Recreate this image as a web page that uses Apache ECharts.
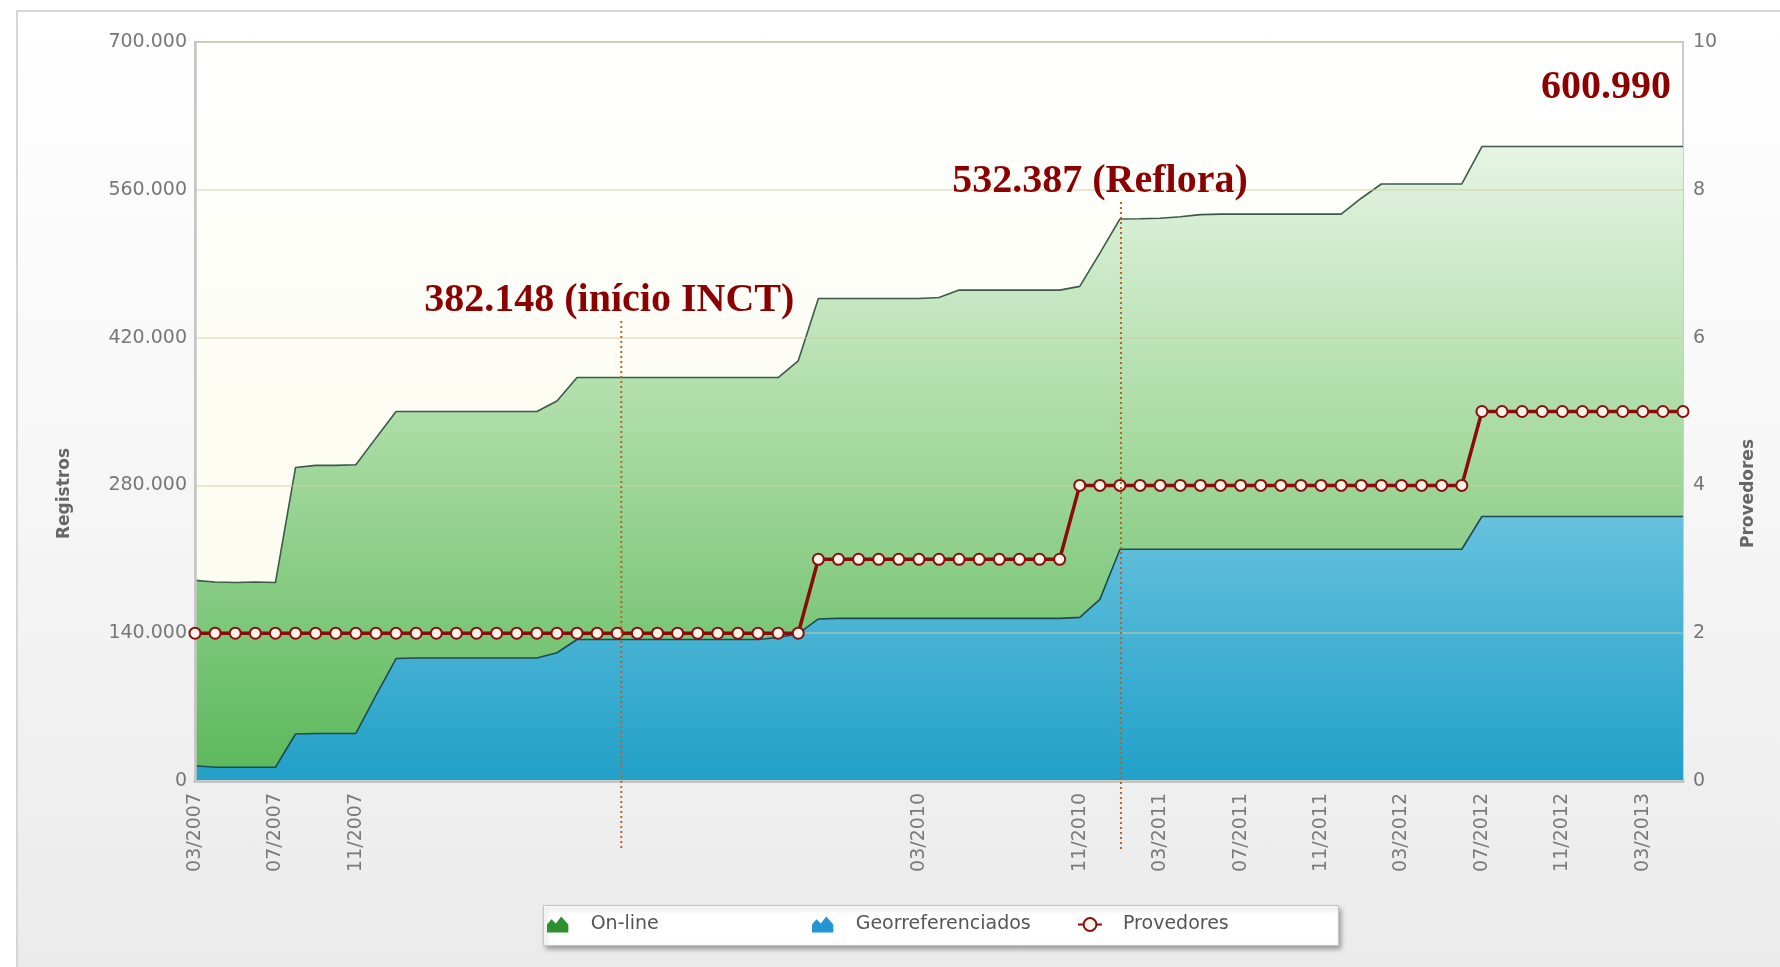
<!DOCTYPE html>
<html><head><meta charset="utf-8">
<script src="https://cdn.jsdelivr.net/npm/echarts@6/dist/echarts.min.js"></script>
<style>
html,body{margin:0;padding:0;width:1780px;height:967px;background:#fff;overflow:hidden;}
#frame{position:absolute;left:16px;top:10px;width:1780px;height:990px;border:2px solid #d6d6d6;background:linear-gradient(#ffffff 0%, #f8f8f8 40%, #eaeaea 100%);}
#chart{position:absolute;left:0;top:0;width:1780px;height:967px;}
</style></head><body><div id="frame"></div><div id="chart"></div>
<script>
const months = [
 '03/2007','04/2007','05/2007','06/2007','07/2007','08/2007','09/2007','10/2007','11/2007','12/2007',
 '01/2008','02/2008','03/2008','04/2008','05/2008','06/2008','07/2008','08/2008','09/2008','10/2008','11/2008','12/2008',
 '01/2009','02/2009','03/2009','04/2009','05/2009','06/2009','07/2009','08/2009','09/2009','10/2009','11/2009','12/2009',
 '01/2010','02/2010','03/2010','04/2010','05/2010','06/2010','07/2010','08/2010','09/2010','10/2010','11/2010','12/2010',
 '01/2011','02/2011','03/2011','04/2011','05/2011','06/2011','07/2011','08/2011','09/2011','10/2011','11/2011','12/2011',
 '01/2012','02/2012','03/2012','04/2012','05/2012','06/2012','07/2012','08/2012','09/2012','10/2012','11/2012','12/2012',
 '01/2013','02/2013','03/2013','04/2013','05/2013'
];
const shownTicks = ['03/2007','07/2007','11/2007','03/2010','11/2010','03/2011','07/2011','11/2011','03/2012','07/2012','11/2012','03/2013'];

const online = [
 190000,188500,188000,188500,188000,297000,299000,299000,299500,325000,
 350000,350000,350000,350000,350000,350000,350000,350000,360000,382148,
 382148,382148,382148,382148,382148,382148,382148,382148,382148,382148,
 398000,457000,457000,457000,457000,457000,457000,458000,465000,465000,
 465000,465000,465000,465000,468500,500000,532387,532600,533000,534500,
 536500,537000,537000,537000,537000,537000,537000,537000,552000,565500,
 565500,565500,565500,565500,600990,600990,600990,600990,600990,600990,
 600990,600990,600990,600990,600990
];
const georef = [
 14500,13000,13000,13000,13000,44500,45000,45000,45000,81000,
 116000,116500,116500,116500,116500,116500,116500,116500,121500,134000,
 134000,134000,134000,134000,134000,134000,134000,134000,134000,136000,
 139500,153500,154000,154000,154000,154000,154000,154000,154000,154000,
 154000,154000,154000,154000,155000,172000,219500,219500,219500,219500,
 219500,219500,219500,219500,219500,219500,219500,219500,219500,219500,
 219500,219500,219500,219500,250500,250500,250500,250500,250500,250500,
 250500,250500,250500,250500,250500
];
const provedores = [
 2,2,2,2,2,2,2,2,2,2, 2,2,2,2,2,2,2,2,2,2, 2,2,2,2,2,2,2,2,2,2,
 2,3,3,3,3,3,3,3,3,3, 3,3,3,3,4,4,4,4,4,4, 4,4,4,4,4,4,4,4,4,4,
 4,4,4,4,5,5,5,5,5,5, 5,5,5,5,5
];
// annotations: month index position, top value of marker line, bottom value (below axis), label
const annotX = [21.2, 46.05, 74];
const annotTop = [435700, 548400, 600990];
const annotBottom = [-64400, -64400, 600990];
const annotLabels = ['382.148 (início INCT)', '532.387 (Reflora)', '600.990'];
const seriesNames = ['On-line', 'Georreferenciados', 'Provedores'];

function fmtThousands(v){ return String(v).replace(/\B(?=(\d{3})+(?!\d))/g, '.'); }

const chart = echarts.init(document.getElementById('chart'), null, {renderer:'canvas'});
const annotData = annotX.map((x,i)=>[x, annotTop[i], annotBottom[i]]);
const annotOffsets = [[-12,-20,'center'],[-21,-20,'center'],[-12,-59,'right']];

const mountain = 'path://M0,20 L0,11 L5,5 L10,10 L16,2 L24,11 L24,20 Z';
const legendIcons = [
 {icon: mountain, itemStyle:{color:'#2f8f2f'}},
 {icon: mountain, itemStyle:{color:'#2196d3'}},
 {}
];
const legendLefts = [547, 812, 1077];
const legends = seriesNames.map((n, i) => ({
 left: legendLefts[i], top: 915, padding: 0,
 itemWidth: 24, itemHeight: 16,
 formatter: name => '{t|' + name + '}',
 textStyle: {fontFamily:'DejaVu Sans', fontSize: 19, color:'#555',
  rich: {t: {fontFamily:'DejaVu Sans', fontSize: 19, color:'#555', padding:[0,0,0,16]}}},
 data: [Object.assign({name: n}, legendIcons[i])]
}));

const option = {
 backgroundColor: 'transparent',
 animation: false,
 graphic: [{
  type:'rect', left: 543, top: 905, z: 0,
  shape:{width: 795, height: 40},
  style:{fill:'#ffffff', stroke:'#c4c4c4', lineWidth:1,
   shadowColor:'rgba(0,0,0,0.35)', shadowBlur:5, shadowOffsetX:2, shadowOffsetY:3}
 }],
 grid: {
  left: 195, right: 97, top: 42, bottom: 186, show: true,
  borderColor: '#cbcbcb', borderWidth: 2,
  backgroundColor: new echarts.graphic.LinearGradient(0,0,0,1,[
   {offset:0,color:'#ffffff'},{offset:0.5,color:'#fdfdf4'},{offset:1,color:'#fbfbee'}])
 },
 legend: legends,
 xAxis: [
  {
   type: 'value', min: 0, max: 74, interval: 4, z: 4,
   axisLine: {show:true, lineStyle:{color:'#243a52', width:2.5}},
   axisTick: {show:false},
   splitLine: {show:false},
   axisLabel: {
    rotate: 90, margin: 12, color:'#7a7a7a', fontSize: 19, fontFamily:'DejaVu Sans',
    showMaxLabel: false,
    formatter: v => (shownTicks.indexOf(months[v]) >= 0 ? months[v] : '')
   }
  },
  {
   type: 'value', min: 0, max: 74, position: 'top', z: 4,
   axisLine: {show:true, lineStyle:{color:'#c6c6c6', width:3}},
   axisTick: {show:false}, axisLabel: {show:false}, splitLine: {show:false}
  }
 ],
 yAxis: [
  {
   type:'value', min:0, max:700000, interval:140000, z: 3,
   name:'Registros', nameLocation:'middle', nameGap:122, nameRotate:90,
   nameTextStyle:{fontFamily:'DejaVu Sans', fontWeight:'bold', fontSize:17, color:'#666', padding:[0,164,0,0]},
   axisLine:{show:true, lineStyle:{color:'#c6c6c6', width:2.5}}, axisTick:{show:false},
   axisLabel:{color:'#777', fontSize:19, fontFamily:'DejaVu Sans', margin:8, formatter: v => fmtThousands(v)},
   splitLine:{show:true, lineStyle:{color:'rgba(205,205,160,0.6)', width:1.5}}
  },
  {
   type:'value', min:0, max:10, interval:2, position:'right',
   name:'Provedores', nameLocation:'middle', nameGap:57, nameRotate:90,
   nameTextStyle:{fontFamily:'DejaVu Sans', fontWeight:'bold', fontSize:17, color:'#666', padding:[0,164,0,0]},
   axisLine:{show:false}, axisTick:{show:false},
   axisLabel:{color:'#777', fontSize:19, fontFamily:'DejaVu Sans', margin:10},
   splitLine:{show:false}
  }
 ],
 series: [
  {
   name: seriesNames[0], type:'line', symbol:'none', z:2,
   data: online.map((v,i)=>[i,v]),
   lineStyle:{color:'#3b5a4a', width:1.6},
   areaStyle:{opacity:1, color: new echarts.graphic.LinearGradient(0,0,0,1,[
    {offset:0,color:'#e6f4e3'},{offset:0.45,color:'#a9dba3'},{offset:1,color:'#5ab859'}])}
  },
  {
   name: seriesNames[1], type:'line', symbol:'none', z:2,
   data: georef.map((v,i)=>[i,v]),
   lineStyle:{color:'#1d4a55', width:1.6},
   areaStyle:{opacity:1, color: new echarts.graphic.LinearGradient(0,0,0,1,[
    {offset:0,color:'#66c1dd'},{offset:1,color:'#21a0c8'}])}
  },
  {
   name: seriesNames[2], type:'line', yAxisIndex:1, z:5,
   data: provedores.map((v,i)=>[i,v]),
   symbol:'circle', symbolSize:11, showAllSymbol:true,
   itemStyle:{color:'#fff3ea', borderColor:'#8a1010', borderWidth:2},
   lineStyle:{color:'#8b0a0a', width:3.5}
  },
  {
   name:'annot', type:'custom', z:6, silent:true, clip:false,
   data: annotData,
   encode:{x:0, y:1},
   renderItem: function(params, api){
    const idx = params.dataIndex;
    const top = api.coord([api.value(0), api.value(1)]);
    const bot = api.coord([api.value(0), api.value(2)]);
    const off = annotOffsets[idx];
    const children = [];
    if (bot[1] - top[1] > 1) {
     children.push({type:'line', shape:{x1:top[0], y1:top[1], x2:bot[0], y2:bot[1]},
      style:{stroke:'#c0621c', lineWidth:2, lineDash:[2,3]}});
    }
    children.push({type:'text', x: top[0] + off[0], y: top[1] + off[1],
     style:{text: annotLabels[idx], fill:'#8b0000', font:'bold 40px "Liberation Serif"',
      align: off[2], verticalAlign:'middle'}});
    return {type:'group', children: children};
   }
  }
 ]
};
chart.setOption(option);
</script></body></html>
